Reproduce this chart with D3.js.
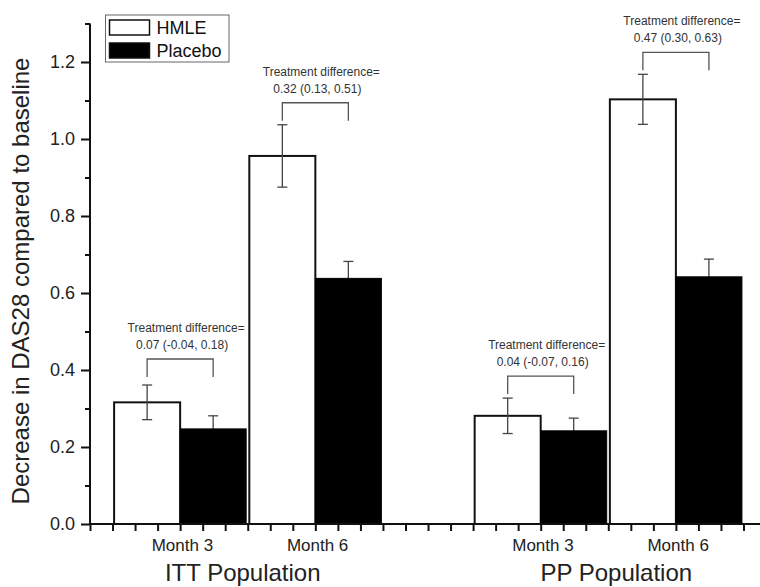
<!DOCTYPE html>
<html>
<head>
<meta charset="utf-8">
<script src="https://cdn.jsdelivr.net/npm/d3@7"></script>
<style>
	body { margin: 0; background: #fff; }
	svg { display: block; font-family: "Liberation Sans", Arial, sans-serif; }
</style>
</head>
<body>
<script>
// data
var populations = ["ITT Population", "PP Population"];
var months = ["Month 3", "Month 6"];
var series = ["HMLE", "Placebo"];
// order: ITT M3, ITT M6, PP M3, PP M6
var hmle = [0.316, 0.956, 0.281, 1.103];
var hmleErr = [0.045, 0.081, 0.046, 0.065];
var placebo = [0.247, 0.638, 0.242, 0.642];
var placeboErr = [0.034, 0.044, 0.033, 0.046];
var diffTitle = "Treatment difference=";
var diffLabels = ["0.07 (-0.04, 0.18)", "0.32 (0.13, 0.51)", "0.04 (-0.07, 0.16)", "0.47 (0.30, 0.63)"];
var yMajor = [0, 0.2, 0.4, 0.6, 0.8, 1.0, 1.2];
var yMinor = [0.1, 0.3, 0.5, 0.7, 0.9, 1.1, 1.3];

var width = 760, height = 587;
var svg = d3.select("body").append("svg")
	.attr("width", width)
	.attr("height", height);

// scales (x in "slot" units, one tick per slot)
var x = d3.scaleLinear().domain([0, 29]).range([90, 743.5]);
var y = d3.scaleLinear().domain([0, 1.3]).range([524, 23.5]);
var barW = 2.93;

// center of each population/month group
function center(i){
	var p = Math.floor(i / 2), m = i % 2;
	return 4 + p * 16 + m * 6;
}

var rows = hmle.map(function(v, i){
	return {i: i, hmle: v, hErr: hmleErr[i], placebo: placebo[i], pErr: placeboErr[i], label: diffLabels[i]};
});

// HMLE bars (white)
svg.append("g").selectAll("rect")
	.data(rows).enter().append("rect")
	.attr("x", function(d){ return x(center(d.i) - barW); })
	.attr("y", function(d){ return y(d.hmle); })
	.attr("width", x(barW) - x(0))
	.attr("height", function(d){ return y(0) - y(d.hmle); })
	.attr("fill", "#fff")
	.attr("stroke", "#111")
	.attr("stroke-width", 2);

// error bars
function errBar(g, cx, v, e){
	var c = 5;
	g.append("line").attr("x1", cx).attr("x2", cx).attr("y1", y(v + e)).attr("y2", y(v - e));
	g.append("line").attr("x1", cx - c).attr("x2", cx + c).attr("y1", y(v + e)).attr("y2", y(v + e));
	g.append("line").attr("x1", cx - c).attr("x2", cx + c).attr("y1", y(v - e)).attr("y2", y(v - e));
}
var errG = svg.append("g").attr("stroke", "#444").attr("stroke-width", 1.3);
rows.forEach(function(d){
	errBar(errG, x(center(d.i) - barW / 2), d.hmle, d.hErr);
	errBar(errG, x(center(d.i) + barW / 2), d.placebo, d.pErr);
});

// Placebo bars (black) on top so the lower whisker is hidden
svg.append("g").selectAll("rect")
	.data(rows).enter().append("rect")
	.attr("x", function(d){ return x(center(d.i)); })
	.attr("y", function(d){ return y(d.placebo); })
	.attr("width", x(barW) - x(0))
	.attr("height", function(d){ return y(0) - y(d.placebo); })
	.attr("fill", "#000")
	.attr("stroke", "#000")
	.attr("stroke-width", 1);

// brackets with treatment difference
var brG = svg.append("g");
rows.forEach(function(d){
	var x1 = x(center(d.i) - barW / 2), x2 = x(center(d.i) + barW / 2);
	var bottom = y(d.hmle + d.hErr) - (d.i === 0 ? 8 : 4);
	var top = bottom - 18;
	brG.append("path")
		.attr("d", "M" + x1 + "," + bottom + "V" + top + "H" + x2 + "V" + bottom)
		.attr("fill", "none")
		.attr("stroke", "#555")
		.attr("stroke-width", 1.3);
	var cx = (x1 + x2) / 2;
	brG.append("text")
		.attr("x", cx + 6).attr("y", top - 27)
		.attr("text-anchor", "middle")
		.style("font-size", "12px").attr("fill", "#333")
		.text(diffTitle);
	brG.append("text")
		.attr("x", cx + 2).attr("y", top - 10)
		.attr("text-anchor", "middle")
		.style("font-size", "12px").attr("fill", "#333")
		.text(d.label);
});

// Y axis
var yAxis = d3.axisLeft(y).tickValues(yMajor).tickSize(9).tickPadding(6).tickFormat(d3.format(".1f"));
var yG = svg.append("g").attr("transform", "translate(" + x(0) + ",0)").call(yAxis);
svg.append("g").attr("transform", "translate(" + x(0) + ",0)")
	.call(d3.axisLeft(y).tickValues(yMinor).tickSize(5).tickFormat(""))
	.select(".domain").remove();
yG.select(".domain").attr("d", "M0," + y(1.3) + "V" + y(0));

// X axis (ticks only, labels placed by hand)
var xG = svg.append("g").attr("transform", "translate(0," + y(0) + ")")
	.call(d3.axisBottom(x).tickValues(d3.range(0, 30)).tickSize(7).tickFormat(""));
xG.select(".domain").attr("d", "M" + x(0) + ",0H" + width);

svg.selectAll(".tick line, .domain").attr("stroke", "#111").attr("stroke-width", 2);
yG.selectAll(".tick text").style("font-size", "18px").attr("fill", "#222").attr("font-family", null);

// month / population labels
rows.forEach(function(d){
	svg.append("text")
		.attr("x", x(center(d.i) + 0.1)).attr("y", 551)
		.attr("text-anchor", "middle")
		.style("font-size", "17px").attr("fill", "#222")
		.text(months[d.i % 2]);
});
populations.forEach(function(p, i){
	svg.append("text")
		.attr("x", x(7 + i * 16) + (i === 0 ? -5 : 8)).attr("y", 581)
		.attr("text-anchor", "middle")
		.style("font-size", "24px").attr("fill", "#222")
		.text(p);
});

// y axis title
svg.append("text")
	.attr("transform", "translate(29," + 281 + ") rotate(-90)")
	.attr("text-anchor", "middle")
	.style("font-size", "24px").attr("fill", "#222")
	.text("Decrease in DAS28 compared to baseline");

// legend
var lg = svg.append("g");
lg.append("rect").attr("x", 105.5).attr("y", 15).attr("width", 123.5).attr("height", 47)
	.attr("fill", "#fff").attr("stroke", "#666").attr("stroke-width", 1);
series.forEach(function(s, i){
	lg.append("rect")
		.attr("x", 109.5).attr("y", 20 + i * 23).attr("width", 40).attr("height", 15)
		.attr("fill", i === 0 ? "#fff" : "#000")
		.attr("stroke", "#111").attr("stroke-width", 1.5);
	lg.append("text")
		.attr("x", 156.5).attr("y", 34 + i * 23)
		.style("font-size", "18px").attr("fill", "#111")
		.text(s);
});
</script>
</body>
</html>
